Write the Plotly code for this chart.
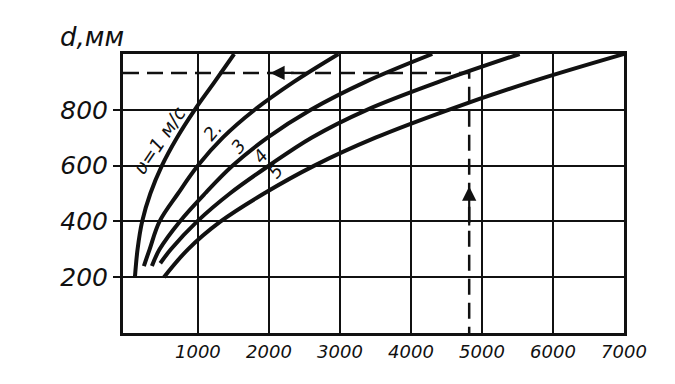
import plotly.graph_objects as go

# ---- data ----
Q_ticks = [1000, 2000, 3000, 4000, 5000, 6000, 7000]
Q_ticktext = ["1000", "2000", "3000", "4000", "5000", "6000", "7000"]
d_ticks = [200, 400, 600, 800]
d_ticktext = ["200", "400", "600", "800"]

# v = 1 m/s
d1 = [200, 300, 400, 500, 600, 700, 800, 900, 1000]
Q1 = [113, 150, 215, 330, 493, 705, 955, 1235, 1510]
# v = 2 m/s
d2 = [240, 300, 400, 500, 600, 700, 800, 900, 1000]
Q2 = [239, 320, 460, 720, 1000, 1350, 1800, 2350, 2980]
# v = 3 m/s
d3 = [240, 300, 400, 500, 600, 700, 800, 900, 1000]
Q3 = [352, 460, 746, 1100, 1490, 1980, 2590, 3360, 4300]
# v = 4 m/s
d4 = [250, 300, 400, 500, 600, 700, 800, 900, 1000]
Q4 = [470, 620, 990, 1450, 2000, 2600, 3380, 4390, 5530]
# v = 5 m/s
d5 = [200, 300, 400, 500, 600, 700, 800, 900, 1000]
Q5 = [521, 860, 1320, 1930, 2640, 3500, 4530, 5690, 7000]

curves = [(Q1, d1), (Q2, d2), (Q3, d3), (Q4, d4), (Q5, d5)]

# worked example (dashed construction line)
ex_Q = 4820
ex_d = 932

curve_labels = ["υ=1 м/с", "2.", "3", "4", "5"]
label_Q = [460, 1200, 1565, 1875, 2090]
label_d = [692, 722, 667, 633, 578]

x_min, x_max = -55, 7000
y_min, y_max = 0, 1000

INK = "#111111"
FONT = "DejaVu Sans"

fig = go.Figure()

for Q, d in curves:
    fig.add_trace(go.Scatter(x=Q, y=d, mode="lines",
                             line=dict(color=INK, width=4, shape="spline", smoothing=1.0),
                             hoverinfo="skip"))

fig.add_trace(go.Scatter(x=[x_min, ex_Q, ex_Q], y=[ex_d, ex_d, y_min], mode="lines",
                         line=dict(color=INK, width=2.5, dash="16px,8px"),
                         hoverinfo="skip"))

# arrows on the construction line
fig.add_annotation(x=2020, y=ex_d, ax=2370, ay=ex_d, xref="x", yref="y",
                   axref="x", ayref="y", text="", showarrow=True,
                   arrowhead=2, arrowsize=1.3, arrowwidth=2.2, arrowcolor=INK)
fig.add_annotation(x=ex_Q, y=525, ax=ex_Q, ay=380, xref="x", yref="y",
                   axref="x", ayref="y", text="", showarrow=True,
                   arrowhead=2, arrowsize=1.3, arrowwidth=2.2, arrowcolor=INK)

# curve labels
for i, (t, q, dd) in enumerate(zip(curve_labels, label_Q, label_d)):
    fig.add_annotation(x=q, y=dd, xref="x", yref="y", text=t, showarrow=False,
                       textangle=-56 if i == 0 else -50,
                       font=dict(family=FONT, size=19 if i == 0 else 18,
                                 color=INK, style="italic"))

# axis title
fig.add_annotation(xref="paper", yref="paper", x=-0.13, y=1.06, xanchor="left",
                   yanchor="middle", text="d,мм", showarrow=False,
                   font=dict(family=FONT, size=26, color=INK, style="italic"))

fig.update_layout(
    width=675, height=384,
    margin=dict(l=115, r=59, t=46, b=59),
    plot_bgcolor="white", paper_bgcolor="white",
    showlegend=False,
    xaxis=dict(range=[x_min, x_max], tickmode="array", tickvals=Q_ticks,
               ticktext=Q_ticktext, showgrid=True, gridcolor=INK, gridwidth=2,
               showline=True, linecolor=INK, linewidth=3, mirror=True,
               zeroline=False, ticks="",
               tickfont=dict(family=FONT, size=18, color=INK, style="italic")),
    yaxis=dict(range=[y_min, y_max], tickmode="array", tickvals=d_ticks,
               ticktext=d_ticktext, showgrid=True, gridcolor=INK, gridwidth=2,
               showline=True, linecolor=INK, linewidth=3, mirror=True,
               zeroline=False, ticks="outside", ticklen=7, tickwidth=2,
               tickcolor=INK,
               tickfont=dict(family=FONT, size=25, color=INK, style="italic")),
)

fig.write_html("out.html")
